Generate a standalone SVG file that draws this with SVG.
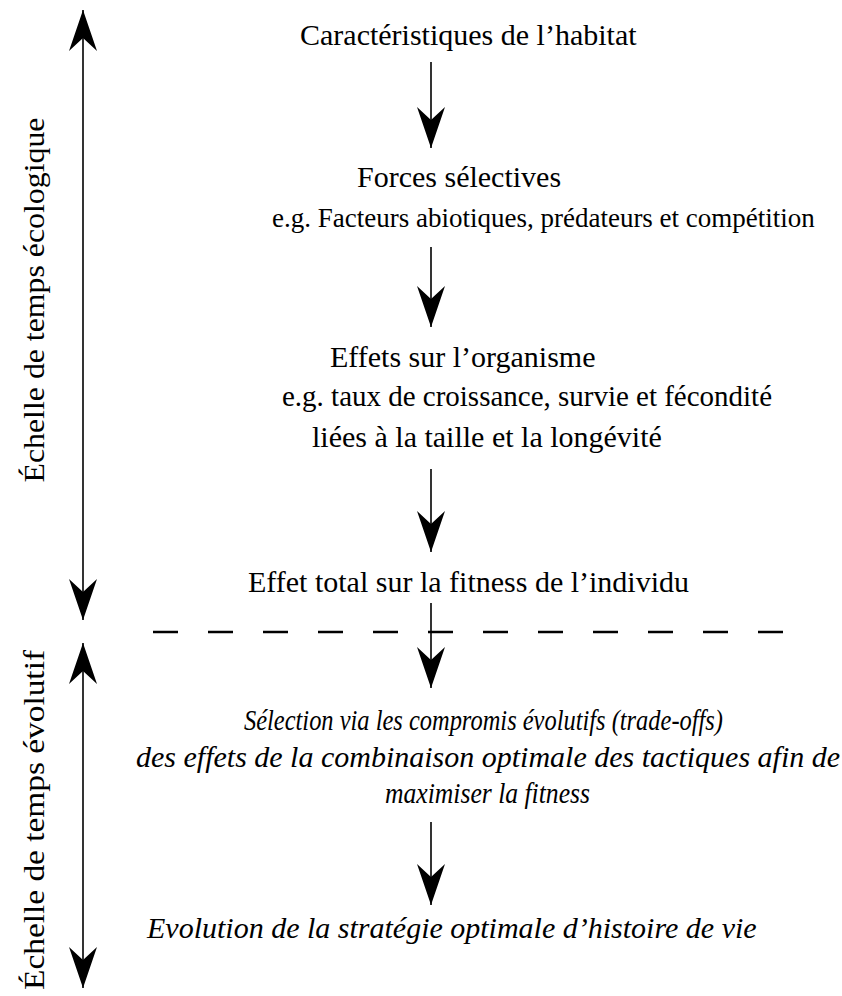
<svg xmlns="http://www.w3.org/2000/svg" width="842" height="996" viewBox="0 0 842 996">
<defs>
<style>
.t{font-family:"Liberation Serif","Times New Roman",serif;font-size:30px;fill:#000}
.s{font-size:27px}
.i{font-style:italic}
.ln{stroke:#000;stroke-width:1.6;fill:none}
.dash{stroke:#000;stroke-width:2.4;stroke-dasharray:25 30;fill:none}
</style>
<marker id="ah" viewBox="-42 -15 44 30" markerWidth="44" markerHeight="30" refX="0" refY="0" markerUnits="userSpaceOnUse" orient="auto-start-reverse">
<path d="M0,0 L-41,-14 L-28,0 L-41,14 Z" fill="#000"/>
</marker>
</defs>
<rect width="842" height="996" fill="#fff"/>
<g id="scale-eco">
<text class="t" transform="translate(44,300) rotate(-90)" text-anchor="middle" textLength="365" lengthAdjust="spacingAndGlyphs">Échelle de temps écologique</text>
</g>
<g id="scale-evo">
<text class="t" transform="translate(44,820) rotate(-90)" text-anchor="middle" textLength="340" lengthAdjust="spacingAndGlyphs">Échelle de temps évolutif</text>
</g>
<g id="habitat"><text class="t" x="300" y="45">Caractéristiques de l’habitat</text></g>
<g id="forces">
<text class="t" x="357" y="187">Forces sélectives</text>
<text class="t s" x="272" y="227">e.g. Facteurs abiotiques, prédateurs et compétition</text>
</g>
<g id="effets">
<text class="t" x="330" y="367">Effets sur l’organisme</text>
<text class="t" x="282" y="406" textLength="490" lengthAdjust="spacingAndGlyphs">e.g. taux de croissance, survie et fécondité</text>
<text class="t" x="312" y="447">liées à la taille et la longévité</text>
</g>
<g id="fitness"><text class="t" x="248" y="592">Effet total sur la fitness de l’individu</text></g>
<g id="selection">
<text class="t i" x="244" y="730" textLength="479" lengthAdjust="spacingAndGlyphs">Sélection via les compromis évolutifs (trade-offs)</text>
<text class="t i" x="136" y="767">des effets de la combinaison optimale des tactiques afin de</text>
<text class="t i" x="385" y="803" textLength="205" lengthAdjust="spacingAndGlyphs">maximiser la fitness</text>
</g>
<g id="evolution"><text class="t i" x="147" y="938">Evolution de la stratégie optimale d’histoire de vie</text></g>
<g id="connectors">
<line class="ln" x1="83" y1="10" x2="83" y2="620" marker-start="url(#ah)" marker-end="url(#ah)"/>
<line class="ln" x1="83" y1="643" x2="83" y2="988" marker-start="url(#ah)" marker-end="url(#ah)"/>
<line class="dash" x1="153" y1="632" x2="790" y2="632"/>
<line class="ln" x1="431" y1="62" x2="431" y2="148" marker-end="url(#ah)"/>
<line class="ln" x1="431" y1="247" x2="431" y2="327" marker-end="url(#ah)"/>
<line class="ln" x1="431" y1="469" x2="431" y2="552" marker-end="url(#ah)"/>
<line class="ln" x1="431" y1="603" x2="431" y2="688" marker-end="url(#ah)"/>
<line class="ln" x1="431" y1="822" x2="431" y2="905" marker-end="url(#ah)"/>
</g>
</svg>
